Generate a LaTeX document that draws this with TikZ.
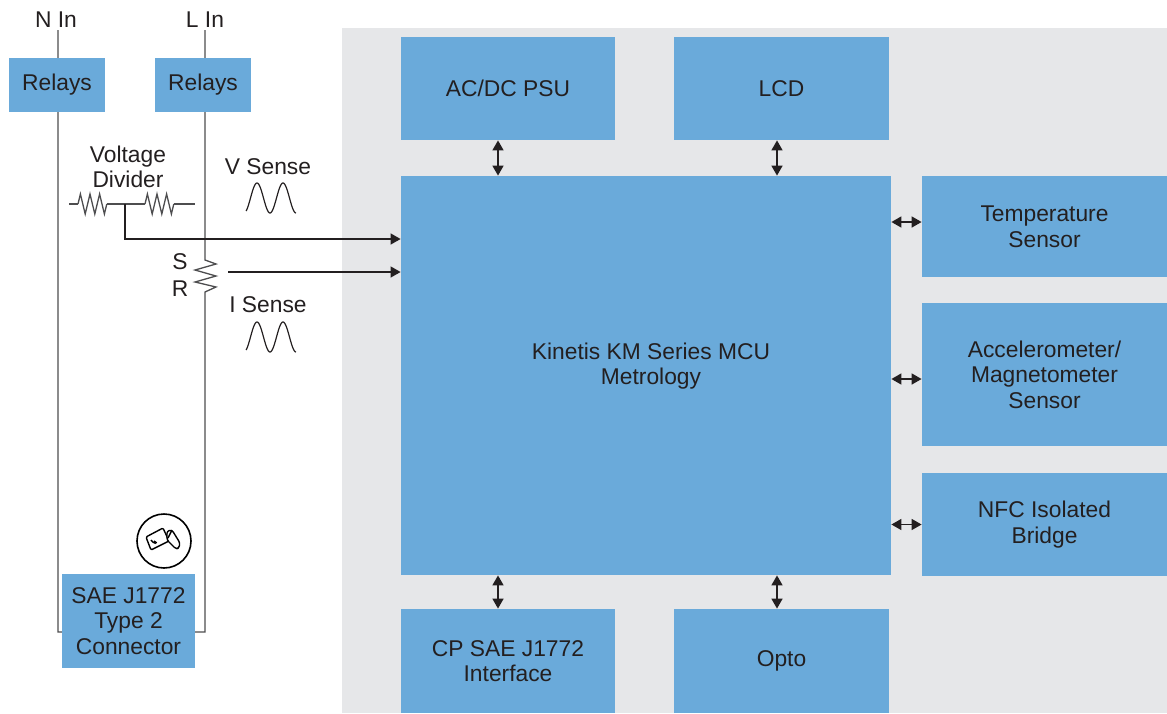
\documentclass[tikz,border=0pt]{standalone}
\usepackage{fontspec}
\setmainfont{Liberation Sans}
\usetikzlibrary{arrows.meta,calc}

\definecolor{blockblue}{HTML}{6AAADA}
\definecolor{panelgrey}{HTML}{E6E7E9}
\definecolor{inkgrey}{HTML}{231F20}
\definecolor{wiregrey}{HTML}{4D4D4F}

\begin{document}
\begin{tikzpicture}[x=0.5pt,y=-0.5pt,
	font=\fontsize{11.4}{12.8}\selectfont, text=inkgrey,
	block/.style={fill=blockblue, align=center, inner sep=0pt},
	wire/.style={draw=wiregrey, line width=0.65pt},
	link/.style={draw=inkgrey, line width=0.8pt, {Triangle[length=5pt,width=5.5pt]}-{Triangle[length=5pt,width=5.5pt]}},
	feed/.style={draw=inkgrey, line width=0.6pt, -{Triangle[length=5pt,width=5.5pt]}}]
	\useasboundingbox (0,0) rectangle (1167,713);
	\pgfmathsetmacro{\sx}{257}		%first peak of the sense waves
	\pgfmathsetmacro{\per}{26}		%period of the sense waves
	\pgfmathsetmacro{\amp}{15}		%amplitude of the sense waves

	%grey board
	\fill[panelgrey] (342,28) rectangle (1167,713);

	%mains inputs
	\node[inner sep=1pt] (nin) at (56,20) {N In};
	\node[inner sep=1pt] (lin) at (205,20) {L In};
	\coordinate (nbot) at (58,632);
	\coordinate (lbot) at (205,632);
	\coordinate (shbot) at (205,292);

	\draw[wire] (nbot |- nin.south) -- (nbot) -- (lbot) -- (shbot)
		-- ++(11,-5) -- ++(-21,-5) -- ++(21,-6) -- ++(-21,-6) -- ++(21,-6) -- ++(-11,-4)
		-- (lbot |- lin.south);

	%voltage divider
	\coordinate (vdl) at (69,204);
	\coordinate (vdr) at (195,204);
	\coordinate (tap) at (125,204);
	\draw[wire] (vdl) -- (78,204) (107,204) -- (145,204) (174,204) -- (vdr);
	\foreach \s in {78,145}
		\draw[wire] (\s,204) -- ++(2.4,-10) -- ++(4.8,20) -- ++(4.8,-20) -- ++(4.8,20)
			-- ++(4.8,-20) -- ++(4.8,20) -- ++(2.4,-10);
	\node[align=center] (vdiv) at (128,167) {Voltage\\Divider};

	%shunt labels
	\node (slbl) at (180,262) {S};
	\node (rlbl) at (180,289) {R};

	%sense waves
	\node (vsense) at (268,167) {V Sense};
	\node (isense) at (268,305) {I Sense};
	\foreach \yc in {198,337}
		\draw[draw=inkgrey, line width=0.6pt] plot[domain=-150:540, samples=80, smooth]
			({\sx+\x/360*\per},{\yc-\amp*cos(\x)});

	%blocks
	\node[block, minimum width=48pt, minimum height=27pt] (relayn) at (57,85) {Relays};
	\node[block, minimum width=48pt, minimum height=27pt] (relayl) at (203,85) {Relays};
	\node[block, minimum width=66.5pt, minimum height=47pt] (sae) at (128.5,621) {SAE J1772\\Type 2\\Connector};
	\node[block, minimum width=107pt, minimum height=51.5pt] (psu) at (508,88.5) {AC/DC PSU};
	\node[block, minimum width=107.5pt, minimum height=51.5pt] (lcd) at (781.5,88.5) {LCD};
	\node[block, minimum width=245pt, minimum height=199.5pt] (mcu) at (646,375.5) {};
	\node[align=center] (mcutxt) at (651,366) {Kinetis KM Series MCU\\Metrology};
	\node[block, minimum width=122.5pt, minimum height=50.5pt] (temp) at (1044.5,226.5) {Temperature\\Sensor};
	\node[block, minimum width=122.5pt, minimum height=71.5pt] (accel) at (1044.5,374.5) {Accelerometer/\\Magnetometer\\Sensor};
	\node[block, minimum width=122.5pt, minimum height=51.5pt] (nfc) at (1044.5,524.5) {NFC Isolated\\Bridge};
	\node[block, minimum width=107pt, minimum height=52pt] (cp) at (508,661) {CP SAE J1772\\Interface};
	\node[block, minimum width=107.5pt, minimum height=52pt] (opto) at (781.5,661) {Opto};

	%sense feeds into the mcu
	\coordinate (vout) at (125,239);
	\coordinate (iout) at (228,272);
	\draw[feed] (tap) -- (vout) -- (vout -| mcu.west);
	\draw[feed] (iout) -- (iout -| mcu.west);

	%bus links
	\draw[link] ([xshift=-5pt]psu.south) -- ([xshift=-5pt]psu.south |- mcu.north);
	\draw[link] ([xshift=-2.25pt]lcd.south) -- ([xshift=-2.25pt]lcd.south |- mcu.north);
	\draw[link] ([xshift=-5pt]cp.north) -- ([xshift=-5pt]cp.north |- mcu.south);
	\draw[link] ([xshift=-2.25pt]opto.north) -- ([xshift=-2.25pt]opto.north |- mcu.south);
	\draw[link] ([yshift=2.25pt]temp.west) -- ([yshift=2.25pt]temp.west -| mcu.east);
	\draw[link] ([yshift=-2.25pt]accel.west) -- ([yshift=-2.25pt]accel.west -| mcu.east);
	\draw[link] (nfc.west) -- (nfc.west -| mcu.east);

	%contactless badge
	\node[circle, draw=black, line width=0.8pt, minimum size=27pt, inner sep=0pt] (badge) at (164,541) {};
	\begin{scope}[shift={(badge.center)}, line width=0.7pt, line join=round]
		\draw[rounded corners=0.6pt] (-18,-4) -- (-1,-13) -- (5,0) -- (-13,9) -- cycle;
		\draw (-13,-1) arc[start angle=150, end angle=100, radius=7];
		\draw (-10,0) arc[start angle=150, end angle=100, radius=4];
		\draw[fill=white, rounded corners=1.2pt] (3,-10) -- (8,-11) -- (16,2) -- (15,7) -- (12,8) -- (6,2) -- (3,-1) -- cycle;
		\draw (8,-11) -- (4,-3);
	\end{scope}
\end{tikzpicture}
\end{document}
